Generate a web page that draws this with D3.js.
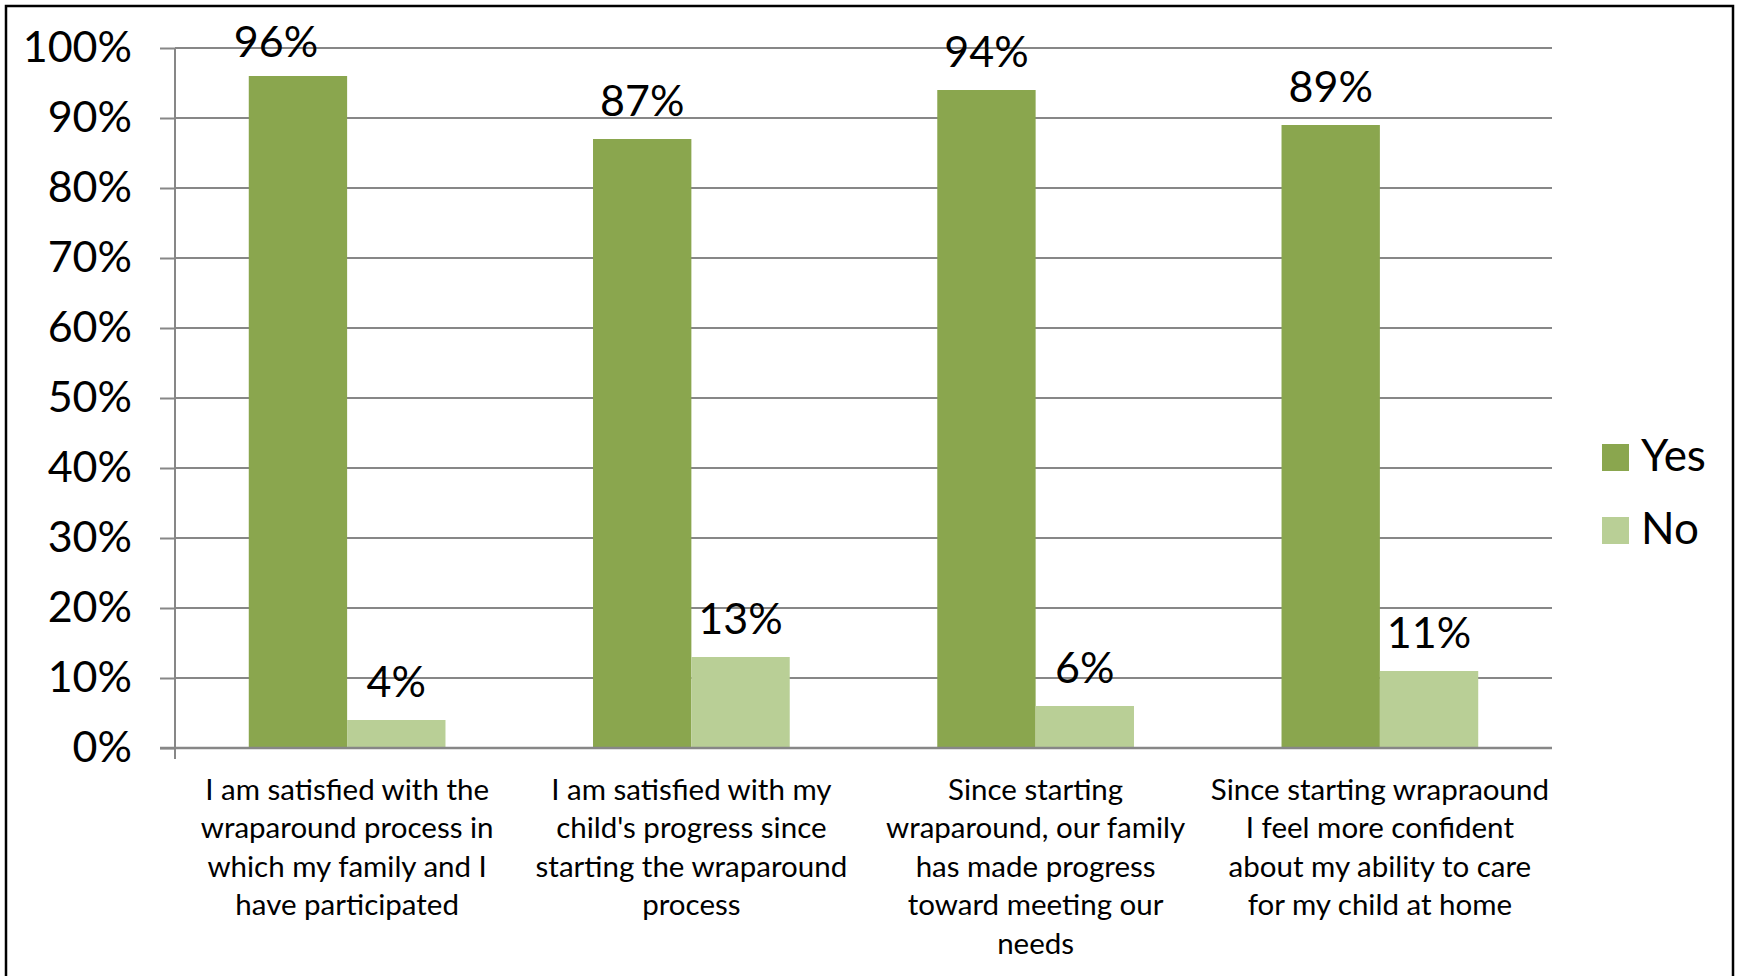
<!DOCTYPE html>
<html>
<head>
<meta charset="utf-8">
<script src="https://cdn.jsdelivr.net/npm/d3@7"></script>
<style>
  html, body { margin: 0; padding: 0; background: #ffffff; }
  svg { display: block; font-family: Lato, "Open Sans", sans-serif; }
</style>
</head>
<body>
<svg id="chart" width="1741" height="976"></svg>
<script>
// ---- data ----
const categories = [
  "I am satisfied with the\nwraparound process in\nwhich my family and I\nhave participated",
  "I am satisfied with my\nchild's progress since\nstarting the wraparound\nprocess",
  "Since starting\nwraparound, our family\nhas made progress\ntoward meeting our\nneeds",
  "Since starting wrapraound\nI feel more confident\nabout my ability to care\nfor my child at home"
];
const seriesNames = ["Yes", "No"];
const yesValues = [0.96, 0.87, 0.94, 0.89];
const noValues = [0.04, 0.13, 0.06, 0.11];
const yTicks = [0, 0.1, 0.2, 0.3, 0.4, 0.5, 0.6, 0.7, 0.8, 0.9, 1.0];
const colors = ["#8aa64e", "#b9cf96"];

// ---- layout ----
const svg = d3.select("#chart");
const plotLeft = 175, plotRight = 1552, plotTop = 48, plotBottom = 748;
const gridColor = "#878787";

const x = d3.scaleBand().domain(categories).range([plotLeft, plotRight])
  .paddingInner(1.5 / 3.5).paddingOuter(0.75 / 3.5);
const xs = d3.scaleBand().domain(seriesNames).range([0, x.bandwidth()]).padding(0);
const y = d3.scaleLinear().domain([0, 1]).range([plotBottom, plotTop]);

// outer border
svg.append("rect")
  .attr("x", 6).attr("y", 6).attr("width", 1727).attr("height", 1000)
  .attr("fill", "none").attr("stroke", "#000").attr("stroke-width", 2.5);

// gridlines
svg.append("g").selectAll("line").data(yTicks).join("line")
  .attr("x1", plotLeft).attr("x2", plotRight)
  .attr("y1", d => y(d)).attr("y2", d => y(d))
  .attr("stroke", gridColor).attr("stroke-width", 2);

// y axis
const yAxis = d3.axisLeft(y).tickValues(yTicks).tickFormat(d3.format(".0%"))
  .tickSize(15).tickPadding(28);
const gy = svg.append("g").attr("transform", `translate(${plotLeft},0)`).call(yAxis);
gy.select(".domain").remove();
gy.selectAll(".tick line").attr("stroke", gridColor).attr("stroke-width", 2);
gy.selectAll(".tick text").attr("font-family", "Lato, sans-serif")
  .attr("font-size", 43).attr("fill", "#000");
svg.append("line").attr("x1", plotLeft).attr("x2", plotLeft)
  .attr("y1", plotTop).attr("y2", plotBottom + 11)
  .attr("stroke", gridColor).attr("stroke-width", 2);

// bars
const data = categories.map((c, i) => ({ cat: c, vals: [yesValues[i], noValues[i]] }));
const groups = svg.append("g").selectAll("g").data(data).join("g")
  .attr("transform", d => `translate(${x(d.cat)},0)`);
groups.selectAll("rect").data(d => d.vals.map((v, j) => ({ v, s: seriesNames[j], j })))
  .join("rect")
  .attr("x", d => xs(d.s)).attr("width", xs.bandwidth())
  .attr("y", d => y(d.v)).attr("height", d => plotBottom - y(d.v))
  .attr("fill", d => colors[d.j]);

// x axis baseline
svg.append("line").attr("x1", plotLeft - 15).attr("x2", plotRight)
  .attr("y1", plotBottom).attr("y2", plotBottom)
  .attr("stroke", gridColor).attr("stroke-width", 2.5);

// data labels
groups.selectAll("text.lbl").data((d, i) => d.vals.map((v, j) => ({ v, s: seriesNames[j], j, i })))
  .join("text").attr("class", "lbl")
  .attr("x", d => xs(d.s) + xs.bandwidth() / 2 - (d.i === 0 && d.j === 0 ? 22 : 0))
  .attr("y", d => y(d.v) - (d.i === 0 && d.j === 0 ? 19 : 23))
  .attr("text-anchor", "middle").attr("font-size", 43).attr("fill", "#000")
  .text(d => d3.format(".0%")(d.v));

// category labels
const catG = svg.append("g");
categories.forEach(c => {
  const t = catG.append("text")
    .attr("x", x(c) + x.bandwidth() / 2).attr("y", 800)
    .attr("text-anchor", "middle").attr("font-size", 29.5).attr("fill", "#000");
  c.split("\n").forEach((line, k) => {
    t.append("tspan").attr("x", x(c) + x.bandwidth() / 2)
      .attr("y", 800 + k * 38.4).text(line);
  });
});

// legend
const legend = svg.append("g");
seriesNames.forEach((s, j) => {
  const ly = 444 + j * 73;
  legend.append("rect").attr("x", 1602).attr("y", ly).attr("width", 27).attr("height", 27)
    .attr("fill", colors[j]);
  legend.append("text").attr("x", 1641).attr("y", ly + 27)
    .attr("font-size", 44).attr("fill", "#000").text(s);
});
</script>
</body>
</html>
